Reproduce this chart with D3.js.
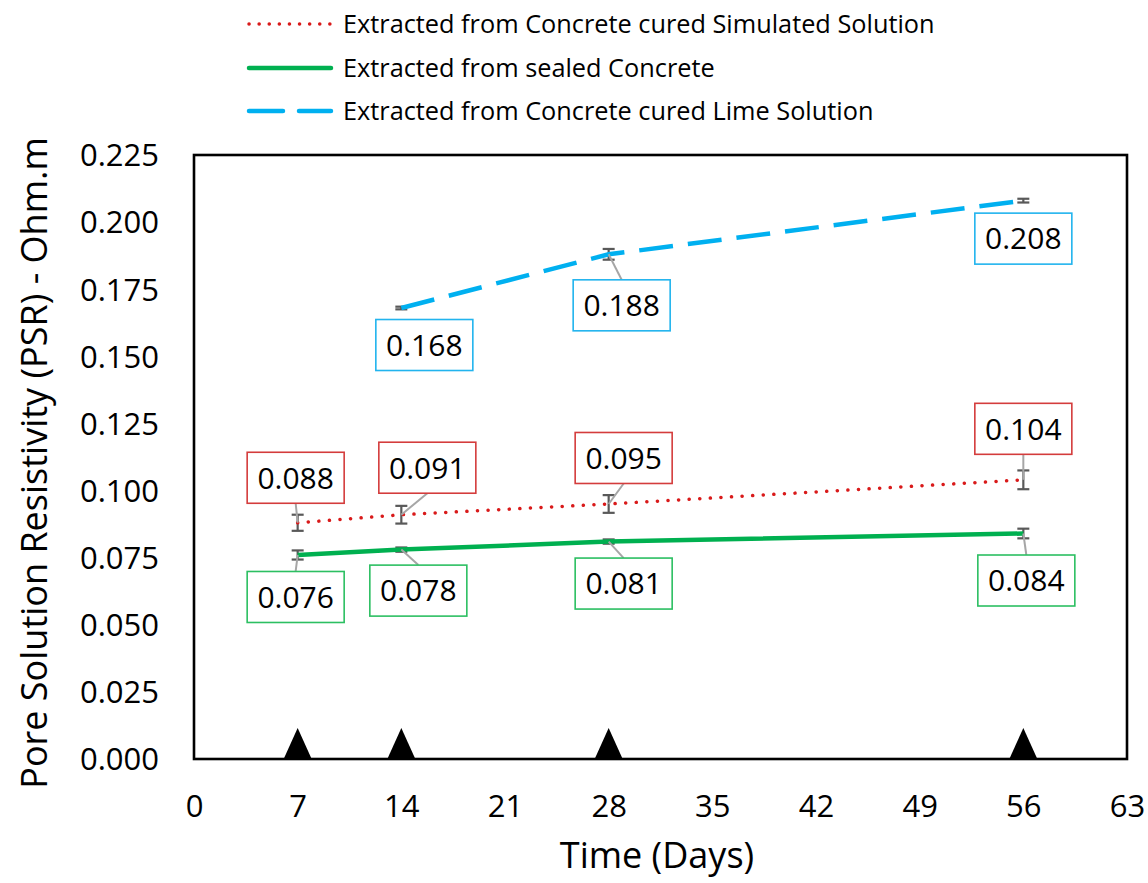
<!DOCTYPE html>
<html>
<head>
<meta charset="utf-8">
<script src="https://cdn.jsdelivr.net/npm/d3@7"></script>
<style>
  body { margin: 0; background: #fff; }
  text { font-family: "Open Sans", "Noto Sans", sans-serif; fill: #000; }
</style>
</head>
<body>
<script>
// DATA ––––––––––––––––––––––––––––––––––––––––––––––––––––––––––––––––

var xTicks = [0, 7, 14, 21, 28, 35, 42, 49, 56, 63];
var yTicks = [0, 0.025, 0.05, 0.075, 0.1, 0.125, 0.15, 0.175, 0.2, 0.225];

var seriesNames = [
  "Extracted from Concrete cured Simulated Solution",
  "Extracted from sealed Concrete",
  "Extracted from Concrete cured Lime Solution"
];

var simDays = [7, 14, 28, 56];
var simValues = [0.088, 0.091, 0.095, 0.104];
var simErrors = [0.003, 0.0033, 0.0033, 0.0035];

var sealedDays = [7, 14, 28, 56];
var sealedValues = [0.076, 0.078, 0.081, 0.084];
var sealedErrors = [0.0017, 0.0008, 0.0008, 0.0018];

var limeDays = [14, 28, 56];
var limeValues = [0.168, 0.188, 0.208];
var limeErrors = [0.0005, 0.002, 0.0007];

var markerDays = [7, 14, 28, 56]; // black triangles sitting on the x axis

// LAYOUT / STYLE ––––––––––––––––––––––––––––––––––––––––––––––––––––––

var W = 1148, H = 883;
var plot = {left: 194, right: 1127, top: 155, bottom: 759};

var styles = [
  {color: "#d91a1a", box: "#d43c3c", width: 3.5, dash: "0.1 10.5", cap: "round"},
  {color: "#00b050", box: "#2cbf62", width: 4.5, dash: null, cap: "butt"},
  {color: "#00b0f0", box: "#22b4ee", width: 4.5, dash: "34 15", cap: "butt"}
];

// label box centre offset from its point (px), and whether a leader line shows
var labelOffsets = [
  [{dx: -2, dy: -45, lead: true}, {dx: 26, dy: -47, lead: true}, {dx: 15, dy: -46, lead: true}, {dx: 0, dy: -51, lead: true}],
  [{dx: -2, dy: 42, lead: true}, {dx: 17, dy: 41, lead: true}, {dx: 15, dy: 42, lead: true}, {dx: 3, dy: 47, lead: true}],
  [{dx: 23, dy: 37, lead: false}, {dx: 13, dy: 51, lead: true}, {dx: 0, dy: 38, lead: false}]
];

// DRAW ––––––––––––––––––––––––––––––––––––––––––––––––––––––––––––––––

var svg = d3.select("body").append("svg")
    .attr("width", W)
    .attr("height", H);

var x = d3.scaleLinear().domain([0, 63]).range([plot.left, plot.right]);
var y = d3.scaleLinear().domain([0, 0.225]).range([plot.bottom, plot.top]);

var series = [
  {days: simDays, values: simValues, errors: simErrors},
  {days: sealedDays, values: sealedValues, errors: sealedErrors},
  {days: limeDays, values: limeValues, errors: limeErrors}
];

// axes (no tick marks, just labels)
var xAxis = svg.append("g")
    .attr("transform", "translate(0," + plot.bottom + ")")
    .call(d3.axisBottom(x).tickValues(xTicks).tickSize(0).tickFormat(d3.format("d")));
xAxis.select(".domain").remove();
xAxis.selectAll("text")
    .attr("y", 47)
    .attr("dy", "0.35em")
    .style("font-size", "31px")
    .style("font-family", "'Open Sans', sans-serif")
    .attr("fill", "#000");

var yAxis = svg.append("g")
    .attr("transform", "translate(" + plot.left + ",0)")
    .call(d3.axisLeft(y).tickValues(yTicks).tickSize(0).tickFormat(d3.format(".3f")));
yAxis.select(".domain").remove();
yAxis.selectAll("text")
    .attr("x", -35)
    .attr("dy", "0.35em")
    .style("font-size", "31px")
    .style("font-family", "'Open Sans', sans-serif")
    .attr("fill", "#000");

// error bars
series.forEach(function(s) {
  s.days.forEach(function(d, i) {
    var cx = x(d),
        y1 = y(s.values[i] + s.errors[i]),
        y2 = y(s.values[i] - s.errors[i]);
    var g = svg.append("g").attr("stroke", "#595959").attr("stroke-width", 2.2);
    g.append("line").attr("x1", cx).attr("x2", cx).attr("y1", y1).attr("y2", y2);
    g.append("line").attr("x1", cx - 6).attr("x2", cx + 6).attr("y1", y1).attr("y2", y1);
    g.append("line").attr("x1", cx - 6).attr("x2", cx + 6).attr("y1", y2).attr("y2", y2);
  });
});

// series lines
var line = d3.line()
    .x(function(d) { return x(d[0]); })
    .y(function(d) { return y(d[1]); });

series.forEach(function(s, k) {
  var pts = s.days.map(function(d, i) { return [d, s.values[i]]; });
  svg.append("path")
      .datum(pts)
      .attr("fill", "none")
      .attr("stroke", styles[k].color)
      .attr("stroke-width", styles[k].width)
      .attr("stroke-linecap", styles[k].cap)
      .attr("stroke-dasharray", styles[k].dash)
      .attr("d", line);
});

// triangle markers on the axis
svg.selectAll(".tri")
    .data(markerDays)
  .enter().append("path")
    .attr("class", "tri")
    .attr("fill", "#000")
    .attr("d", function(d) {
      var cx = x(d), by = y(0);
      return "M" + (cx - 14) + "," + by + "L" + cx + "," + (by - 31) + "L" + (cx + 14) + "," + by + "Z";
    });

// data labels with leader lines
var boxW = 97, boxH = 51;
series.forEach(function(s, k) {
  s.days.forEach(function(d, i) {
    var px = x(d), py = y(s.values[i]),
        o = labelOffsets[k][i],
        bx = px + o.dx, by = py + o.dy;

    if (o.lead) {
      var ey = o.dy < 0 ? by + boxH / 2 : by - boxH / 2;
      svg.append("line")
          .attr("x1", bx).attr("y1", ey)
          .attr("x2", px).attr("y2", py)
          .attr("stroke", "#a6a6a6")
          .attr("stroke-width", 2);
    }

    svg.append("rect")
        .attr("x", bx - boxW / 2).attr("y", by - boxH / 2)
        .attr("width", boxW).attr("height", boxH)
        .attr("fill", "#fff")
        .attr("stroke", styles[k].box)
        .attr("stroke-width", 1.6);

    svg.append("text")
        .attr("x", bx).attr("y", by)
        .attr("dy", "0.36em")
        .attr("text-anchor", "middle")
        .style("font-size", "30px")
        .text(d3.format(".3f")(s.values[i]));
  });
});

// plot frame
svg.append("rect")
    .attr("x", plot.left).attr("y", plot.top)
    .attr("width", plot.right - plot.left)
    .attr("height", plot.bottom - plot.top)
    .attr("fill", "none")
    .attr("stroke", "#000")
    .attr("stroke-width", 2.6);

// legend
var legendRows = [24, 68, 111];
seriesNames.forEach(function(name, k) {
  var ly = legendRows[k];
  svg.append("line")
      .attr("x1", 249).attr("x2", 331)
      .attr("y1", ly).attr("y2", ly)
      .attr("stroke", styles[k].color)
      .attr("stroke-width", styles[k].width)
      .attr("stroke-linecap", "round")
      .attr("stroke-dasharray", k == 0 ? "0.1 10" : (k == 2 ? "34 16" : null));
  svg.append("text")
      .attr("x", 343).attr("y", ly)
      .attr("dy", "0.35em")
      .style("font-size", "25.3px")
      .text(name);
});

// axis titles
svg.append("text")
    .attr("x", 657).attr("y", 855)
    .attr("dy", "0.35em")
    .attr("text-anchor", "middle")
    .style("font-size", "36px")
    .text("Time (Days)");

svg.append("text")
    .attr("transform", "translate(34,463) rotate(-90)")
    .attr("text-anchor", "middle")
    .attr("dy", "0.35em")
    .style("font-size", "36px")
    .text("Pore Solution Resistivity (PSR) - Ohm.m");
</script>
</body>
</html>
